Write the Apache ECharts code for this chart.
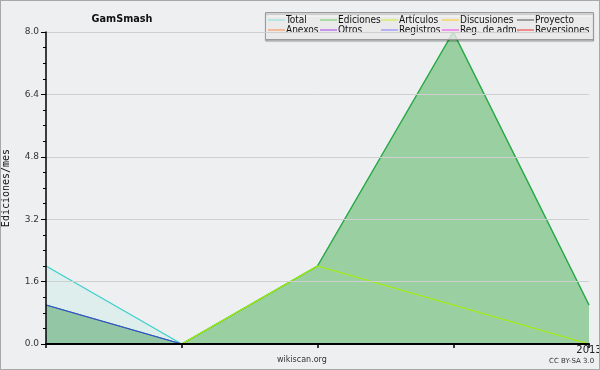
<!DOCTYPE html>
<html><head><meta charset="utf-8">
<script src="https://cdn.jsdelivr.net/npm/echarts@6/dist/echarts.min.js"></script>
<style>
html,body{margin:0;padding:0;background:#fff;}
#c{width:600px;height:370px;box-sizing:border-box;border:1px solid #a8a8a8;background:#eeeff1;}
</style></head>
<body><div id="c"></div>
<script>
var categories = ['2012-12', '2013-01', '2013-02', '2013-03', '2013'];
var yTicks = [0, 1.6, 3.2, 4.8, 6.4, 8.0];
var total = [2, 0, 2, 8, 1];
var ediciones = [1, 0, 2, 8, 1];
var articulos = [0, 0, 2, 1, 0];
var discusiones = [0, 0, 0, 0, 0];
var proyecto = [0, 0, 0, 0, 0];
var anexos = [0, 0, 0, 0, 0];
var otros = [0, 0, 0, 0, 0];
var registros = [1, 0, 0, 0, 0];
var regAdm = [0, 0, 0, 0, 0];
var reversiones = [0, 0, 0, 0, 0];

var names = ['Total','Ediciones','Artículos','Discusiones','Proyecto','Anexos','Otros','Registros','Reg. de adm.','Reversiones'];
var datas = [total, ediciones, articulos, discusiones, proyecto, anexos, otros, registros, regAdm, reversiones];
var lineColors = ['#3cd0cc','#33a83a','#a6f000','#ffc820','#555555','#ff8040','#9933ee','#3a48e0','#ee33ee','#ee3333'];
var legendColors = ['#88e0e0','#66cc66','#ccf022','#ffcc22','#555555','#ff8844','#a040f0','#7b7bff','#f040f0','#f03030'];
var fills = ['rgba(160,235,215,0.3)','rgba(70,168,70,0.64)',null,null,null,null,null,'rgba(60,80,230,0.10)',null,null];

var series = names.map(function(n, i){
  var s = {name: n, type: 'line', data: datas[i], symbol: 'none', z: 2 + i,
    lineStyle: {color: lineColors[i], width: 1.3}, itemStyle: {color: legendColors[i]}};
  if (fills[i]) s.areaStyle = {color: fills[i], origin: 'start'};
  return s;
});

var cols = [[0,5],[1,6],[2,7],[3,8],[4,9]];
var colX = [267, 319, 380, 441, 516];
var legends = cols.map(function(c, k){
  return {orient: 'vertical', left: colX[k], top: 14, itemGap: 0, itemWidth: 17, itemHeight: 10,
    padding: 0, z: 20, icon: 'path://M0,4.5L17,4.5L17,5.5L0,5.5Z',
    textStyle: {fontFamily: '"DejaVu Sans Condensed", "DejaVu Sans"', fontSize: 10, color: '#111', padding: [0,0,0,-4]},
    selectedMode: false,
    data: c.map(function(i){ return {name: names[i], itemStyle: {color: legendColors[i]}}; })};
});

var chart = echarts.init(document.getElementById('c'), null, {renderer: 'canvas'});
chart.setOption({
  animation: false,
  backgroundColor: '#eeeff1',
  title: {text: 'GamSmash', left: 116, top: 8, textAlign: 'center',
    textStyle: {fontFamily: '"DejaVu Sans Condensed", "DejaVu Sans"', fontWeight: 'bold', fontSize: 10.8, color: '#111'}},
  legend: legends,
  grid: {left: 45, right: 10, top: 31, bottom: 25, containLabel: false, outerBoundsMode: 'none'},
  xAxis: {type: 'category', data: categories, boundaryGap: false, z: 50,
    axisLine: {lineStyle: {color: '#000', width: 2}},
    axisTick: {show: true, length: 4, inside: false, alignWithLabel: true, interval: 0, lineStyle: {color: '#000', width: 1.5}},
    axisLabel: {interval: 0, margin: 1, fontFamily: 'DejaVu Sans', fontSize: 10, color: '#222',
      formatter: function(v, idx){ return idx === categories.length - 1 ? v : ''; }},
    splitLine: {show: false}},
  yAxis: {type: 'value', min: yTicks[0], max: yTicks[yTicks.length-1], interval: 1.6, z: 50,
    name: 'Ediciones/mes', nameLocation: 'middle', nameGap: 35,
    nameTextStyle: {fontFamily: 'DejaVu Sans Mono', fontSize: 10, color: '#111'},
    axisLine: {show: true, lineStyle: {color: '#000', width: 1.5}},
    axisTick: {show: true, length: 5, lineStyle: {color: '#000'}},
    minorTick: {show: true, splitNumber: 4, length: 3, lineStyle: {color: '#000'}},
    axisLabel: {margin: 7, fontFamily: 'DejaVu Sans', fontSize: 9, color: '#333',
      formatter: function(v){ return v.toFixed(1); }},
    splitLine: {show: true, lineStyle: {color: '#cfcfcf', width: 1}}},
  graphic: [
    {type: 'rect', z: 15, shape: {x: 264.5, y: 11.5, width: 328, height: 27},
      style: {fill: 'rgba(255,255,255,0.72)', stroke: '#9a9a9a', lineWidth: 1,
        shadowColor: 'rgba(0,0,0,0.35)', shadowOffsetY: 1.5, shadowBlur: 1}},
    {type: 'text', z: 20, left: 276, top: 355, style: {text: 'wikiscan.org', font: '8px "DejaVu Sans"', fill: '#333'}},
    {type: 'text', z: 20, left: 548, top: 357, style: {text: 'CC BY-SA 3.0', font: '7px "DejaVu Sans"', fill: '#333'}}
  ],
  series: series
});
</script>
</body></html>
